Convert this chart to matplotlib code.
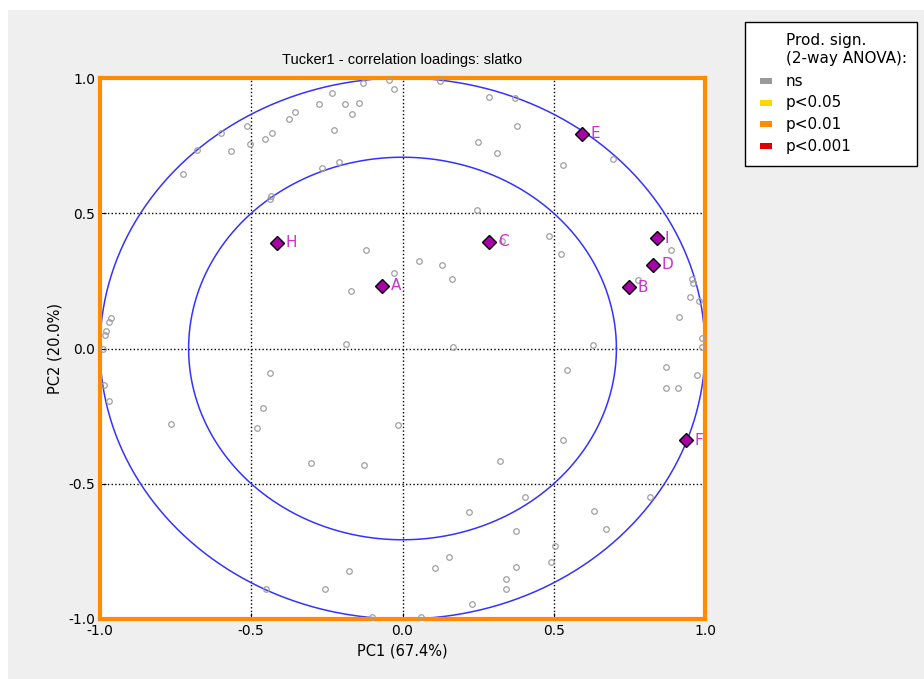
import matplotlib
matplotlib.use("Agg")
import matplotlib.pyplot as plt
import matplotlib.patches as mpatches
import numpy as np

plt.rcParams['axes.unicode_minus'] = False

W, H = 924, 679

# product loadings (diamonds)
prod_labels = ['A', 'B', 'C', 'D', 'E', 'F', 'H', 'I']
prod_x = [-0.067, 0.748, 0.287, 0.828, 0.594, 0.938, -0.414, 0.840]
prod_y = [0.232, 0.226, 0.394, 0.310, 0.794, -0.339, 0.391, 0.407]

# assessor loadings (non significant, grey circles)
ns_x = [-0.132, -0.027, -0.232, -0.276, -0.191, -0.143, -0.167, -0.355, -0.375, -0.225,
        -0.515, -0.601, -0.430, -0.454, -0.504, -0.678, -0.566, -0.726, -0.265, -0.211,
        -0.434, -0.437, -0.121, -0.027, -0.045, 0.124, 0.287, 0.372, 0.380, 0.251,
        0.312, 0.530, 0.697, 0.246, 0.485, 0.330, 0.054, 0.130, 0.523, 0.888,
        0.165, 0.779, 0.957, 0.961, -0.171, -0.964, -0.969, -0.979, -0.982, -0.991,
        -0.987, -0.971, -0.188, -0.437, -0.460, -0.481, -0.766, -0.015, -0.301, -0.128,
        0.951, 0.981, 0.913, 0.990, 0.990, 0.166, 0.630, 0.545, 0.870, 0.975,
        0.870, 0.912, 0.531, 0.321, -0.177, -0.257, -0.451, -0.100, 0.405, 0.221,
        0.374, 0.632, 0.674, 0.818, 0.505, 0.155, 0.107, 0.491, 0.375, 0.343,
        0.343, 0.229, 0.060]
ns_y = [0.983, 0.958, 0.946, 0.904, 0.903, 0.909, 0.867, 0.875, 0.847, 0.808,
        0.821, 0.798, 0.798, 0.773, 0.756, 0.734, 0.730, 0.646, 0.666, 0.688,
        0.564, 0.552, 0.364, 0.280, 0.993, 0.990, 0.929, 0.925, 0.823, 0.765,
        0.724, 0.677, 0.699, 0.511, 0.416, 0.399, 0.323, 0.310, 0.349, 0.363,
        0.256, 0.253, 0.257, 0.241, 0.214, 0.114, 0.097, 0.064, 0.051, -0.002,
        -0.136, -0.193, 0.017, -0.089, -0.220, -0.294, -0.280, -0.284, -0.422, -0.430,
        0.191, 0.176, 0.118, 0.039, 0.007, 0.007, 0.014, -0.081, -0.067, -0.097,
        -0.146, -0.146, -0.339, -0.416, -0.824, -0.889, -0.890, -0.991, -0.549, -0.603,
        -0.676, -0.601, -0.667, -0.549, -0.729, -0.772, -0.811, -0.789, -0.807, -0.853,
        -0.889, -0.945, -0.993]

legend_title = ['Prod. sign.', '(2-way ANOVA):']
legend_labels = ['ns', 'p<0.05', 'p<0.01', 'p<0.001']
legend_colors = ['#999999', '#ffd700', '#ff8c00', '#e00000']

fig = plt.figure(figsize=(W / 100, H / 100), dpi=100)
fig.patch.set_facecolor('white')
# grey panel behind everything (white strip on top/left like the screenshot)
fig.patches.append(mpatches.Rectangle((8 / W, 0), 1, 1 - 10 / H, transform=fig.transFigure,
                                      facecolor='#efefef', edgecolor='none', zorder=-10))

ax = fig.add_axes([100 / W, 1 - 619 / H, 605 / W, 541 / H])
ax.set_facecolor('white')

t = np.linspace(0, 2 * np.pi, 400)
ax.plot(np.cos(t), np.sin(t), color='#3333ff', lw=1.1, zorder=2)
r = np.sqrt(0.5)
ax.plot(r * np.cos(t), r * np.sin(t), color='#3333ff', lw=1.1, zorder=2)

for v in [-0.5, 0.0, 0.5]:
    ax.axvline(v, color='black', ls=':', lw=1.0, zorder=1)
    ax.axhline(v, color='black', ls=':', lw=1.0, zorder=1)

ax.plot(ns_x, ns_y, 'o', mfc='none', mec='#a0a0a0', ms=4, mew=0.9, zorder=3, clip_on=False)
ax.plot(prod_x, prod_y, 'D', mfc='#aa00aa', mec='black', ms=7, mew=1.0, zorder=4)
for lab, px, py in zip(prod_labels, prod_x, prod_y):
    ax.annotate(lab, (px, py), xytext=(6, 0), textcoords='offset points',
                color='#cc33cc', fontsize=11, va='center', ha='left', zorder=5)

ax.set_xlim(-1, 1)
ax.set_ylim(-1, 1)
ax.set_xticks([-1.0, -0.5, 0.0, 0.5, 1.0])
ax.set_yticks([-1.0, -0.5, 0.0, 0.5, 1.0])
ax.tick_params(direction='in', labelsize=10, length=4)
for s in ax.spines.values():
    s.set_color('#ff8c00')
    s.set_linewidth(3)

ax.set_title('Tucker1 - correlation loadings: slatko', fontsize=10.5,
             family='Liberation Sans', pad=10)
ax.set_xlabel('PC1 (67.4%)', fontsize=10.5)
ax.set_ylabel('PC2 (20.0%)', fontsize=10.5)

# legend box drawn by hand (title is aligned with the label column)
def fx(px):
    return px / W

def fy(py):
    return 1 - py / H

fig.patches.append(mpatches.Rectangle((fx(745), fy(166)), (917 - 745) / W, (166 - 22) / H,
                                      transform=fig.transFigure, facecolor='white',
                                      edgecolor='black', lw=1.0, zorder=5))
for i, line in enumerate(legend_title):
    fig.text(fx(786), fy(41 + i * 17), line, fontsize=11, va='center', ha='left', zorder=6)
for i, (lab, col) in enumerate(zip(legend_labels, legend_colors)):
    yc = 81 + i * 21.7
    fig.patches.append(mpatches.Rectangle((fx(760), fy(yc + 3)), 12 / W, 6 / H,
                                          transform=fig.transFigure, facecolor=col,
                                          edgecolor='none', zorder=6))
    fig.text(fx(786), fy(yc), lab, fontsize=11, va='center', ha='left', zorder=6)

plt.savefig('out.png', dpi=100)
plt.close()
